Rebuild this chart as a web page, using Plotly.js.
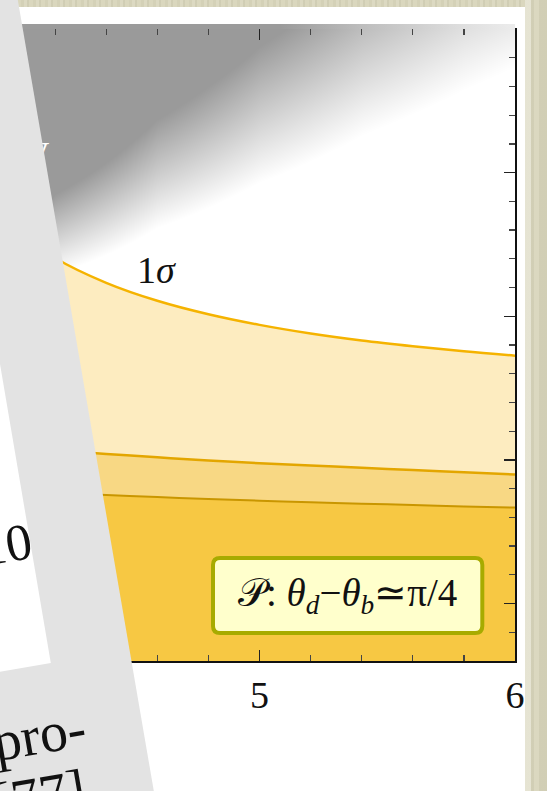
<!DOCTYPE html>
<html>
<head>
<meta charset="utf-8">
<script src="https://cdn.plot.ly/plotly-3.0.1.min.js"></script>
<style>
  html, body { margin: 0; padding: 0; }
  body { width: 547px; height: 791px; overflow: hidden; position: relative; background: #d8d5bb; }
  #grain { position: absolute; inset: 0;
    background: repeating-linear-gradient(90deg, rgba(255,255,255,0.10) 0 3px, rgba(0,0,0,0.035) 3px 5px, rgba(255,255,255,0.05) 5px 9px, rgba(0,0,0,0.02) 9px 12px); }
  #page { position: absolute; left: 0; top: 7px; width: 525px; height: 800px; background: #fff; }
  #chart { position: absolute; left: 0; top: 0; width: 547px; height: 791px; }
  #strip { position: absolute; left: 0; top: 24px; width: 515px; height: 5px;
    background: linear-gradient(90deg, #9b9b9b 0, #9b9b9b 280px, #bdbdbd 361px, #dfdfdf 464px, #ececec 515px); }
  #edge { position: absolute; left: 525px; top: 0; width: 22px; height: 791px; background: #d8d5bb; }
  #edge::after { content: ""; position: absolute; inset: 0;
    background: linear-gradient(90deg, rgba(255,255,255,0.35) 0 6px, rgba(0,0,0,0.03) 6px 9px, rgba(255,255,255,0.08) 9px 14px, rgba(0,0,0,0.03) 14px 22px); }
  #sheet { position: absolute; inset: 0; background: #e3e3e3;
    clip-path: polygon(0 0, 17.8px 0, 153.8px 791px, 0 791px); }
  #leaf { position: absolute; inset: 0; background: #fff;
    clip-path: polygon(0 364px, 50.8px 663px, 0 671.7px); }
  .txt { position: absolute; font-family: 'Liberation Serif', serif; font-size: 56px; line-height: 62px;
    transform: rotate(-9.76deg); transform-origin: 0 0; color: #111; white-space: pre; }
</style>
</head>
<body>
<div id="grain"></div>
<div id="page"></div>
<div id="chart"></div>
<div id="strip"></div>
<div id="edge"></div>
<div id="sheet"></div>
<div id="leaf"></div>
<div class="txt" style="left:-25px; top:519px; font-size:52px;">10</div>
<div class="txt" style="left:-12px; top:712px;">pro-</div>
<div class="txt" style="left:-12px; top:773px;">[77]</div>
<script>
// sample points along x
const xGrid = [4.0, 4.2, 4.4, 4.6, 4.8, 5.0, 5.2, 5.4, 5.6, 5.8, 6.0];
// upper boundary (1σ contour)
const band1Sigma = [3.063, 2.806, 2.633, 2.508, 2.414, 2.340, 2.280, 2.231, 2.191, 2.156, 2.126];
// middle boundary
const bandMid = [1.494, 1.467, 1.442, 1.418, 1.396, 1.377, 1.361, 1.345, 1.330, 1.314, 1.298];
// lower boundary
const bandLow = [1.187, 1.171, 1.156, 1.141, 1.128, 1.116, 1.105, 1.095, 1.086, 1.076, 1.068];

// grey shading of the excluded corner (0 = clear, 1 = fully shaded)
const shadeX = [3.8, 4.2, 4.6, 5.0, 5.4, 5.8, 6.2];
const shadeY = [2.2, 2.4, 2.6, 2.8, 3.0, 3.2, 3.4, 3.6, 3.8, 4.0, 4.2, 4.4, 4.6];
const shadeZ = [
  [-0.48, -0.88, -1.08, -1.19, -1.27, -1.33, -1.37],
  [ 0.07, -0.53, -0.81, -0.98, -1.10, -1.18, -1.24],
  [ 0.63, -0.17, -0.55, -0.77, -0.92, -1.03, -1.11],
  [ 1.18,  0.19, -0.28, -0.56, -0.75, -0.88, -0.98],
  [ 1.73,  0.55, -0.02, -0.35, -0.57, -0.73, -0.85],
  [ 2.28,  0.91,  0.25, -0.14, -0.40, -0.58, -0.72],
  [ 2.83,  1.26,  0.51,  0.07, -0.23, -0.43, -0.59],
  [ 3.00,  1.62,  0.77,  0.28, -0.05, -0.28, -0.46],
  [ 3.00,  1.98,  1.04,  0.49,  0.12, -0.13, -0.33],
  [ 3.00,  2.34,  1.30,  0.70,  0.30,  0.02, -0.20],
  [ 3.00,  2.69,  1.57,  0.91,  0.47,  0.16, -0.07],
  [ 3.00,  3.00,  1.83,  1.12,  0.65,  0.31,  0.07],
  [ 3.00,  3.00,  2.10,  1.33,  0.82,  0.46,  0.20]
];

const xTickVals = [4, 5, 6];
const xTickText = ['4', '5', '6'];

const serif = 'Liberation Serif';

const traces = [
  {
    type: 'heatmap', x: shadeX, y: shadeY, z: shadeZ,
    zmin: 0, zmax: 1, zsmooth: 'best', showscale: false, hoverinfo: 'skip',
    colorscale: [[0, '#ffffff'], [1, '#9a9a9a']]
  },
  {
    type: 'scatter', mode: 'lines', x: xGrid, y: bandLow,
    fill: 'tozeroy', fillcolor: '#f7c843',
    line: { color: '#c99600', width: 2, shape: 'spline' }, hoverinfo: 'skip'
  },
  {
    type: 'scatter', mode: 'lines', x: xGrid, y: bandMid,
    fill: 'tonexty', fillcolor: '#f8d884',
    line: { color: '#e3a600', width: 2.5, shape: 'spline' }, hoverinfo: 'skip'
  },
  {
    type: 'scatter', mode: 'lines', x: xGrid, y: band1Sigma,
    fill: 'tonexty', fillcolor: '#fdecc0',
    line: { color: '#f5b300', width: 2.5, shape: 'spline' }, hoverinfo: 'skip'
  }
];

// rounded label box, in data units
const box = { x0: 4.818, x1: 5.872, y0: 0.195, y1: 0.717, rx: 0.028, ry: 0.049 };
function roundedRect(b) {
  const { x0, x1, y0, y1, rx, ry } = b;
  return `M ${x0 + rx},${y1} L ${x1 - rx},${y1} Q ${x1},${y1} ${x1},${y1 - ry} ` +
         `L ${x1},${y0 + ry} Q ${x1},${y0} ${x1 - rx},${y0} L ${x0 + rx},${y0} ` +
         `Q ${x0},${y0} ${x0},${y0 + ry} L ${x0},${y1 - ry} Q ${x0},${y1} ${x0 + rx},${y1} Z`;
}

const axisCommon = {
  showgrid: false, zeroline: false,
  showline: true, linecolor: '#111', linewidth: 1.5,
  mirror: 'allticks', ticks: 'inside', ticklen: 11, tickwidth: 1.2, tickcolor: '#222'
};

const layout = {
  width: 547, height: 791,
  margin: { l: 4, r: 32, t: 29, b: 130, pad: 0 },
  paper_bgcolor: 'rgba(0,0,0,0)',
  plot_bgcolor: '#ffffff',
  showlegend: false,
  xaxis: Object.assign({}, axisCommon, {
    range: [4, 6], tickmode: 'array', tickvals: xTickVals, ticktext: xTickText,
    tickfont: { family: serif, size: 38, color: '#111' },
    minor: { dtick: 0.2, tick0: 0, ticks: 'inside', ticklen: 6, tickwidth: 1.2, tickcolor: '#444' }
  }),
  yaxis: Object.assign({}, axisCommon, {
    range: [0, 4.4], tick0: 0.4, dtick: 1, showticklabels: false,
    minor: { dtick: 0.2, tick0: 0, ticks: 'inside', ticklen: 6, tickwidth: 1.2, tickcolor: '#444' }
  }),
  shapes: [{
    type: 'path', xref: 'x', yref: 'y', layer: 'above',
    path: roundedRect(box), fillcolor: '#ffffcc',
    line: { color: '#a7ab00', width: 4 }
  }],
  annotations: [
    {
      x: 4.596, y: 2.72, xref: 'x', yref: 'y', showarrow: false,
      text: '1<i>σ</i>', font: { family: serif, size: 38, color: '#111' }
    },
    {
      x: (box.x0 + box.x1) / 2, y: 0.455, xref: 'x', yref: 'y', showarrow: false,
      text: '𝒫: <i>θ</i><sub><i>d</i></sub>−<i>θ</i><sub><i>b</i></sub>≃π/4',
      font: { family: serif, size: 39, color: '#111' }
    },
    {
      x: 4.185, y: 3.57, xref: 'x', yref: 'y', showarrow: false, xanchor: 'right',
      text: 'by', font: { family: serif, size: 42, color: '#ffffff' }
    }
  ]
};

Plotly.newPlot('chart', traces, layout, { staticPlot: true, displayModeBar: false });
</script>
</body>
</html>
